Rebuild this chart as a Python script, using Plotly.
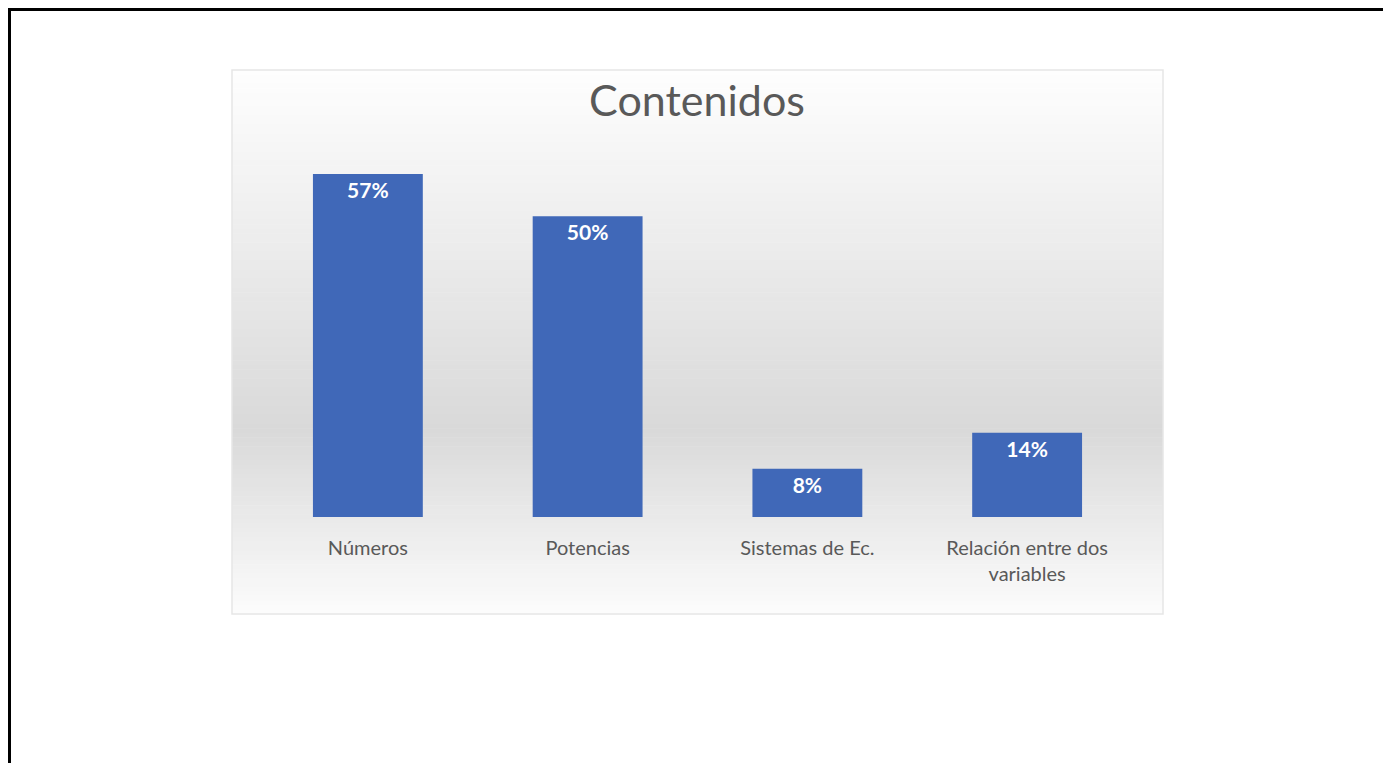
import plotly.graph_objects as go

categories = ["Números", "Potencias", "Sistemas de Ec.", "Relación entre dos<br>variables"]
values = [57, 50, 8, 14]
labels = ["57%", "50%", "8%", "14%"]

# page is rendered with an 8px body margin; work in reference pixels and shift
OFF = 8
W, H = 1391 - OFF, 763 - OFF
ML, MR, MT, MB = 258 - OFF, 254, 156 - OFF, 246
PW, PH = W - ML - MR, H - MT - MB


def px_x(x):
    return (x - OFF - ML) / PW


def px_y(y):
    return 1 - (y - OFF - MT) / PH


def mix(c1, c2, t):
    return "rgb(%d,%d,%d)" % tuple(round(a + (b - a) * t) for a, b in zip(c1, c2))


shapes = []
# page border
shapes.append(dict(type="rect", xref="paper", yref="paper",
                   x0=px_x(OFF + 1.5), x1=px_x(1388), y0=px_y(OFF + 1.5), y1=px_y(800),
                   line=dict(color="black", width=3), fillcolor="rgba(0,0,0,0)", layer="below"))
# chart area gradient background
top, mid, bot = 70, 430, 614
c_top, c_mid, c_bot = (254, 254, 254), (217, 217, 217), (252, 252, 252)
n = 120
step = (bot - top) / n
for i in range(n):
    y0 = top + i * step
    yc = y0 + step / 2
    if yc <= mid:
        col = mix(c_top, c_mid, (yc - top) / (mid - top))
    else:
        col = mix(c_mid, c_bot, (yc - mid) / (bot - mid))
    shapes.append(dict(type="rect", xref="paper", yref="paper",
                       x0=px_x(232), x1=px_x(1163), y0=px_y(y0), y1=px_y(y0 + step + 0.6),
                       line=dict(width=0), fillcolor=col, layer="below"))
shapes.append(dict(type="rect", xref="paper", yref="paper",
                   x0=px_x(232), x1=px_x(1163), y0=px_y(70), y1=px_y(614),
                   line=dict(color="#e6e6e6", width=1.5), fillcolor="rgba(0,0,0,0)", layer="below"))

fig = go.Figure(go.Bar(
    x=categories, y=values, text=labels,
    textposition="inside", insidetextanchor="end",
    textfont=dict(family="Lato", size=21, color="white", weight="bold"),
    marker=dict(color="#4068b8", line=dict(width=0)),
    cliponaxis=False,
))

fig.update_layout(
    width=W, height=H,
    margin=dict(l=ML, r=MR, t=MT, b=MB),
    paper_bgcolor="white", plot_bgcolor="rgba(0,0,0,0)",
    bargap=0.5,
    showlegend=False,
    shapes=shapes,
    title=dict(text="Contenidos", x=(697 - OFF) / W, xanchor="center", y=1 - (101 - OFF) / H,
               yanchor="middle", yref="container", xref="container",
               font=dict(family="Lato", size=43, color="#595959")),
    xaxis=dict(showgrid=False, zeroline=False, showline=False, ticks="",
               tickfont=dict(family="Lato", size=20, color="#595959"),
               ticklabelstandoff=17),
    yaxis=dict(range=[0, 60], visible=False, showgrid=False, zeroline=False),
)

fig.write_html("out.html")
